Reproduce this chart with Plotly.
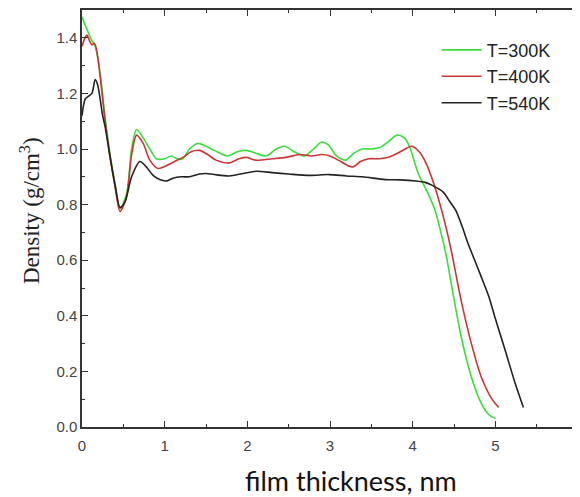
import plotly.graph_objects as go

# T = 300 K
x300 = [0, 0.06, 0.12, 0.16, 0.22, 0.28, 0.34, 0.40, 0.46, 0.54, 0.60, 0.66, 0.74, 0.82, 0.90,
        1.0, 1.08, 1.15, 1.22, 1.30, 1.40, 1.50, 1.60, 1.76, 1.88, 1.99, 2.10, 2.23, 2.35, 2.45,
        2.57, 2.69, 2.80, 2.90, 2.98, 3.08, 3.19, 3.29, 3.39, 3.50, 3.60, 3.70, 3.81, 3.90, 3.96,
        4.07, 4.17, 4.27, 4.35, 4.41, 4.47, 4.59, 4.71, 4.83, 4.92, 5.0]
y300 = [1.475, 1.43, 1.39, 1.37, 1.27, 1.11, 0.98, 0.875, 0.785, 0.84, 1.0, 1.07, 1.04, 1.0, 0.965,
        0.965, 0.975, 0.965, 0.965, 1.0, 1.02, 1.01, 0.995, 0.975, 0.99, 0.995, 0.985, 0.975, 1.0, 1.01,
        0.99, 0.975, 1.0, 1.025, 1.015, 0.975, 0.96, 0.985, 1.0, 1.0, 1.005, 1.025, 1.05, 1.04, 1.01,
        0.91, 0.85, 0.78, 0.69, 0.61, 0.51, 0.32, 0.18, 0.085, 0.045, 0.03]

# T = 400 K
x400 = [0, 0.03, 0.06, 0.09, 0.12, 0.15, 0.18, 0.22, 0.28, 0.34, 0.40, 0.46, 0.54, 0.60, 0.66,
        0.74, 0.82, 0.92, 1.02, 1.12, 1.22, 1.32, 1.42, 1.52, 1.62, 1.78, 1.90, 1.99, 2.10, 2.30,
        2.47, 2.63, 2.78, 2.90, 3.00, 3.10, 3.27, 3.37, 3.47, 3.60, 3.71, 3.85, 3.99, 4.08, 4.16,
        4.25, 4.35, 4.41, 4.47, 4.59, 4.71, 4.83, 4.95, 5.04]
y400 = [1.37, 1.395, 1.41, 1.39, 1.375, 1.38, 1.35, 1.26, 1.10, 0.97, 0.865, 0.775, 0.83, 0.98, 1.05,
        1.02, 0.96, 0.93, 0.94, 0.955, 0.97, 0.99, 0.995, 0.98, 0.96, 0.95, 0.965, 0.97, 0.96, 0.965,
        0.97, 0.98, 0.975, 0.98, 0.975, 0.96, 0.935, 0.955, 0.965, 0.965, 0.97, 0.99, 1.01, 0.99, 0.95,
        0.88, 0.78, 0.71, 0.63, 0.45, 0.30, 0.18, 0.105, 0.07]

# T = 540 K
x540 = [0, 0.04, 0.08, 0.12, 0.16, 0.19, 0.25, 0.28, 0.34, 0.40, 0.46, 0.52, 0.60, 0.70, 0.78,
        0.86, 0.94, 1.02, 1.10, 1.20, 1.30, 1.42, 1.50, 1.60, 1.78, 1.95, 2.11, 2.30, 2.50, 2.75,
        2.99, 3.20, 3.39, 3.67, 3.85, 4.04, 4.15, 4.23, 4.37, 4.45, 4.52, 4.60, 4.67, 4.75, 4.83,
        4.92, 5.00, 5.12, 5.24, 5.34]
y540 = [1.12, 1.18, 1.19, 1.2, 1.25, 1.23, 1.12, 1.08, 0.97, 0.87, 0.79, 0.81, 0.90, 0.955, 0.935,
        0.905, 0.89, 0.885, 0.895, 0.9, 0.9, 0.91, 0.912, 0.908, 0.903, 0.912, 0.92, 0.915, 0.91, 0.905,
        0.908, 0.903, 0.9, 0.89, 0.889, 0.885, 0.88, 0.87, 0.845, 0.81, 0.78, 0.72, 0.66, 0.60, 0.54,
        0.47, 0.39, 0.275, 0.157, 0.07]

series = [
    ("T=300K", x300, y300, "#3ddc3d"),
    ("T=400K", x400, y400, "#cc3535"),
    ("T=540K", x540, y540, "#222222"),
]

fig = go.Figure()
for name, xs, ys, col in series:
    fig.add_trace(go.Scatter(x=xs, y=ys, mode="lines", name=name,
                             line=dict(color=col, width=1.6, shape="spline", smoothing=0.8)))

axis_common = dict(
    showline=True, linecolor="#333333", linewidth=1.5, mirror="ticks",
    ticks="inside", ticklen=6, tickwidth=1.2, tickcolor="#333333",
    showgrid=False, zeroline=False,
    tickfont=dict(family="Liberation Sans, Arial", size=15, color="#444444"),
)

fig.update_xaxes(range=[0, 6], dtick=1, tick0=0, ticklabelstandoff=4,
                 minor=dict(ticks="inside", ticklen=3, dtick=0.5, tickcolor="#333333"),
                 **axis_common)
fig.update_yaxes(range=[0, 1.5], dtick=0.2, tick0=0, tickformat=".1f",
                 minor=dict(ticks="inside", ticklen=3, dtick=0.1, tickcolor="#333333"),
                 **axis_common)

# page body has an 8px margin: figure is 572x489 so it ends at the window edge
fig.update_layout(
    width=572, height=489,
    margin=dict(l=74, r=2, t=0, b=70),
    plot_bgcolor="white", paper_bgcolor="white",
    showlegend=True,
    legend=dict(x=0.715, y=0.948, xanchor="left", yanchor="top",
                bgcolor="rgba(0,0,0,0)", itemwidth=40,
                font=dict(family="Liberation Sans, Arial", size=18, color="#222222"),
                tracegroupgap=0),
    annotations=[
        dict(text="Density (g/cm<sup>3</sup>)", xref="paper", yref="paper",
             x=-0.105, y=0.52, xanchor="center", yanchor="middle", textangle=-90,
             showarrow=False,
             font=dict(family="Liberation Serif, Times New Roman", size=23, color="#222222")),
        dict(text="film thickness, nm", xref="paper", yref="paper",
             x=0.542, y=-0.128, xanchor="center", yanchor="middle",
             showarrow=False,
             font=dict(family="Lato, Open Sans", size=27, color="#111111")),
    ],
)

fig.write_html("out.html")
